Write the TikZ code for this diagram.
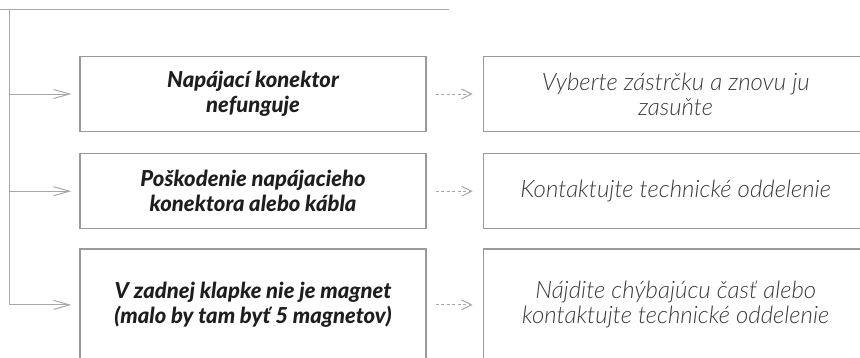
\documentclass[tikz,border=0pt]{standalone}
\usepackage{fontspec}
\setmainfont{Lato}[BoldFont=* Bold, BoldItalicFont=* Bold Italic]
\newfontfamily\latolight{Lato}[UprightFont=* Light, ItalicFont=* Light Italic, BoldFont=* Bold, BoldItalicFont=* Bold Italic]
\newfontfamily\latoheavy{Lato}[UprightFont=* Heavy, ItalicFont=* Heavy Italic]
\usetikzlibrary{positioning, arrows.meta}
\definecolor{lineGray}{HTML}{A8A8A8}
\definecolor{boxGray}{HTML}{9A9A9A}
\definecolor{causeText}{HTML}{1E1E1E}
\definecolor{fixText}{HTML}{3A3A3A}

\begin{document}
\begin{tikzpicture}[
    x=1pt, y=-1pt,
    node distance=21pt and 56pt,
    cause/.style={draw=boxGray, line width=1.2pt, minimum width=346pt, minimum height=75pt, align=center,
        font=\fontsize{22}{25}\selectfont\latoheavy\itshape, text=causeText},
    fix/.style={draw=boxGray, line width=1.2pt, minimum width=385pt, minimum height=75pt, align=center,
        font=\fontsize{24}{25}\selectfont\latolight\itshape, text=fixText},
    trunk/.style={draw=lineGray, line width=1pt},
    branch/.style={trunk, -{Straight Barb[length=16pt,width=9pt]}},
    hint/.style={draw=lineGray, line width=1pt, dashed, dash pattern=on 3pt off 2.5pt,
        -{Straight Barb[length=10pt,width=10pt]}}
]
    \useasboundingbox (0,0) rectangle (860,357);
    \clip (0,0) rectangle (860,357);

    \node[cause] (L1) at (253,94) {Napájací konektor\\nefunguje};
    \node[cause, below=of L1] (L2) {Poškodenie napájacieho\\konektora alebo kábla};
    \node[cause, below=19pt of L2, minimum height=112pt] (L3) {V zadnej klapke nie je magnet\\(malo by tam byť 5 magnetov)};

    \node[fix, right=of L1] (R1) {Vyberte zástrčku a znovu ju\\zasuňte};
    \node[fix, right=of L2] (R2) {Kontaktujte technické oddelenie};
    \node[fix, right=of L3, minimum height=112pt] (R3) {Nájdite chýbajúcu časť alebo\\kontaktujte technické oddelenie};

    % trunk line with branches
    \coordinate (top) at (9,9);
    \coordinate (topend) at (449,9);
    \draw[trunk] (0,9) -- (topend);
    \draw[branch] (top) |- ([xshift=-8pt]L3.west);
    \draw[branch] (top |- L1.west) -- ([xshift=-8pt]L1.west);
    \draw[branch] (top |- L2.west) -- ([xshift=-8pt]L2.west);

    \draw[hint] ([xshift=9pt]L1.east) -- ([xshift=-10pt]R1.west);
    \draw[hint] ([xshift=9pt]L2.east) -- ([xshift=-10pt]R2.west);
    \draw[hint] ([xshift=9pt]L3.east) -- ([xshift=-10pt]R3.west);
\end{tikzpicture}
\end{document}
